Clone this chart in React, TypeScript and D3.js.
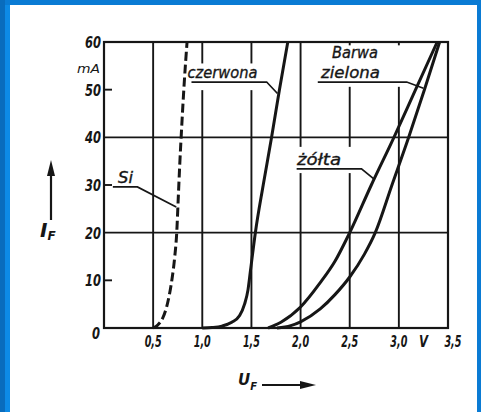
import React from "react";
import * as d3 from "d3";

// U_F [V], I_F [mA]
const siCurve: [number, number][] = [
  [0.5, 0], [0.55, 0.7], [0.6, 2.2], [0.65, 5.5], [0.69, 10], [0.72, 15],
  [0.74, 20], [0.755, 27], [0.77, 34], [0.79, 42], [0.815, 51], [0.845, 60],
];
const redCurve: [number, number][] = [
  [1.0, 0], [1.1, 0.1], [1.2, 0.4], [1.3, 1.2], [1.38, 2.6], [1.43, 5],
  [1.465, 8], [1.49, 12], [1.54, 20], [1.62, 30], [1.705, 40], [1.785, 50], [1.87, 60],
];
const yellowCurve: [number, number][] = [
  [1.67, 0], [1.8, 1.2], [2.0, 4.4], [2.2, 9.5], [2.35, 14], [2.5, 20],
  [2.72, 30], [2.95, 40], [3.17, 50], [3.39, 60],
];
const greenCurve: [number, number][] = [
  [1.76, 0], [1.9, 0.5], [2.0, 1.3], [2.2, 4], [2.35, 7], [2.5, 10.7],
  [2.65, 15.5], [2.76, 20], [2.93, 30], [3.1, 40], [3.26, 50], [3.415, 60],
];

const voltGrid = [0.5, 1.0, 1.5, 2.0, 2.5, 3.0];
const voltLabels = ["0,5", "1,0", "1,5", "2,0", "2,5", "3,0", "3,5"];
const voltLabelValues = [0.5, 1.0, 1.5, 2.0, 2.5, 3.0, 3.55];
const currentGrid = [20, 40];
const currentTicks = [10, 30, 50];
const currentLabels = ["10", "20", "30", "40", "50", "60"];
const currentLabelValues = [10, 20, 30, 40, 50, 60];

// leader lines of the curve names, in data units
const siLeader: [number, number][] = [[0.09, 29.6], [0.34, 29.6], [0.735, 25.4]];
const redLeader: [number, number][] = [[0.89, 51.6], [1.655, 51.6], [1.765, 49.2]];
const greenLeader: [number, number][] = [[2.175, 51.6], [3.08, 51.6], [3.25, 50.3]];
const yellowLeader: [number, number][] = [[1.96, 33.4], [2.62, 33.4], [2.745, 31.3]];

const W = 481;
const H = 412;
const ink = "#161616";

export default function App() {
  const x = d3.scaleLinear().domain([0, 3.5]).range([104, 448]);
  const y = d3.scaleLinear().domain([0, 60]).range([328, 42]);

  const curve = d3
    .line<[number, number]>()
    .x((d) => x(d[0]))
    .y((d) => y(d[1]))
    .curve(d3.curveMonotoneX);
  const leader = d3
    .line<[number, number]>()
    .x((d) => x(d[0]))
    .y((d) => y(d[1]));

  const font = "'DejaVu Sans', sans-serif";

  // white patches where the grid is broken around the names
  const gaps = [
    { v0: 0.77, v1: 1.69, i0: 49.9, i1: 55.5 },
    { v0: 2.15, v1: 3.11, i0: 50.6, i1: 59.3 },
    { v0: 1.89, v1: 2.62, i0: 32.5, i1: 38.0 },
  ];

  return (
    <div style={{ position: "absolute", left: 0, top: 0 }}>
      <svg width={W} height={H} style={{ display: "block", background: "#fff" }}>
        {/* blue frame of the picture */}
        <rect x={0} y={0} width={W} height={5} fill="#0a7bd4" />
        <rect x={0} y={0} width={5} height={H} fill="#096cbd" />
        <rect x={5} y={5} width={5} height={H - 5} fill="#0d8ae6" />
        <rect x={W - 4} y={0} width={4} height={H} fill="#0a7bd4" />

        {/* grid */}
        <g stroke={ink} strokeWidth={1.9}>
          {voltGrid.map((v) => (
            <line key={"v" + v} x1={x(v)} x2={x(v)} y1={y(0)} y2={y(60)} />
          ))}
          {currentGrid.map((c) => (
            <line key={"h" + c} x1={x(0)} x2={x(3.5)} y1={y(c)} y2={y(c)} />
          ))}
          {currentTicks.map((c) => (
            <line key={"t" + c} x1={x(0)} x2={x(0) + 8} y1={y(c)} y2={y(c)} />
          ))}
        </g>
        {gaps.map((g, i) => (
          <rect
            key={i}
            x={x(g.v0)}
            y={y(g.i1)}
            width={x(g.v1) - x(g.v0)}
            height={y(g.i0) - y(g.i1)}
            fill="#fff"
          />
        ))}
        <rect
          x={x(0)}
          y={y(60)}
          width={x(3.5) - x(0)}
          height={y(0) - y(60)}
          fill="none"
          stroke={ink}
          strokeWidth={2.2}
        />

        {/* characteristics */}
        <g fill="none" stroke={ink} strokeWidth={3} strokeLinecap="butt">
          <path d={curve(siCurve) || ""} strokeDasharray="9 4" />
          <path d={curve(redCurve) || ""} />
          <path d={curve(yellowCurve) || ""} />
          <path d={curve(greenCurve) || ""} />
        </g>
        <g fill="none" stroke={ink} strokeWidth={1.7}>
          <path d={leader(siLeader) || ""} />
          <path d={leader(redLeader) || ""} />
          <path d={leader(greenLeader) || ""} />
          <path d={leader(yellowLeader) || ""} />
        </g>

        {/* curve names */}
        <g fontFamily={font} fontStyle="italic" fontSize={15.5} fill={ink} stroke={ink} strokeWidth={0.35}>
          <text x={x(0.85)} y={78} textLength={70} lengthAdjust="spacingAndGlyphs">czerwona</text>
          <text x={332} y={58} textLength={46} lengthAdjust="spacingAndGlyphs">Barwa</text>
          <text x={321} y={78} textLength={59} lengthAdjust="spacingAndGlyphs">zielona</text>
          <text x={297} y={165} textLength={44} lengthAdjust="spacingAndGlyphs">żółta</text>
          <text x={118} y={183} textLength={15} lengthAdjust="spacingAndGlyphs">Si</text>
        </g>

        {/* axis numbers */}
        <g fontFamily={font} fontStyle="italic" fontWeight="bold" fontSize={16} fill={ink}>
          {currentLabels.map((t, i) => (
            <text
              key={t}
              x={101}
              y={y(currentLabelValues[i]) + 6}
              textAnchor="end"
              textLength={16}
              lengthAdjust="spacingAndGlyphs"
            >
              {t}
            </text>
          ))}
          <text x={100} y={339} textAnchor="end" textLength={8} lengthAdjust="spacingAndGlyphs">0</text>
          {voltLabels.map((t, i) => (
            <text
              key={t}
              x={x(voltLabelValues[i])}
              y={347}
              textAnchor="middle"
              textLength={17}
              lengthAdjust="spacingAndGlyphs"
            >
              {t}
            </text>
          ))}
          <text x={x(3.25)} y={347} textAnchor="middle" textLength={9} lengthAdjust="spacingAndGlyphs">V</text>
          <text x={100} y={73} textAnchor="end" fontSize={12} fontWeight="normal" textLength={23} lengthAdjust="spacingAndGlyphs">mA</text>
        </g>

        {/* axis titles with arrows */}
        <g fill={ink} stroke="none" fontFamily={font} fontStyle="italic">
          <line x1={51} x2={51} y1={220} y2={172} stroke={ink} strokeWidth={2.2} />
          <polygon points="51,160 47,176 55,176" />
          <text x={40} y={237} fontSize={20} fontWeight="bold">
            I<tspan fontSize={12} dy={3}>F</tspan>
          </text>

          <line x1={262} x2={304} y1={385} y2={385} stroke={ink} strokeWidth={2.2} />
          <polygon points="316,385 300,381 300,389" />
          <text x={238} y={385} fontSize={15} fontWeight="bold">
            U<tspan fontSize={10} dy={5}>F</tspan>
          </text>
        </g>
      </svg>
    </div>
  );
}
